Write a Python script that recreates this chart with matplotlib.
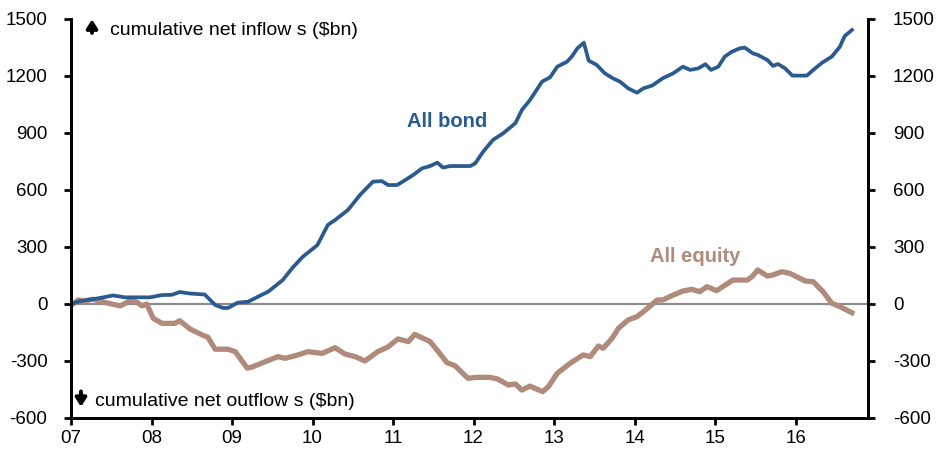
import matplotlib.pyplot as plt

# cumulative net flows, $bn (decimal year, value)
bond_x = [2007.00, 2007.11, 2007.34, 2007.52, 2007.67, 2007.98, 2008.13, 2008.25, 2008.35,
          2008.48, 2008.66, 2008.79, 2008.89, 2008.95, 2009.07, 2009.20, 2009.32, 2009.45,
          2009.63, 2009.75, 2009.88, 2010.06, 2010.19, 2010.28, 2010.44, 2010.59, 2010.75,
          2010.86, 2010.94, 2011.05, 2011.12, 2011.25, 2011.36, 2011.46, 2011.55, 2011.62,
          2011.71, 2011.96, 2012.02, 2012.12, 2012.24, 2012.37, 2012.52, 2012.60, 2012.70,
          2012.85, 2012.95, 2013.04, 2013.16, 2013.22, 2013.29, 2013.37, 2013.43, 2013.53,
          2013.63, 2013.73, 2013.82, 2013.92, 2014.03, 2014.11, 2014.22, 2014.35, 2014.48,
          2014.60, 2014.69, 2014.79, 2014.88, 2014.95, 2015.04, 2015.12, 2015.21, 2015.31,
          2015.37, 2015.47, 2015.53, 2015.65, 2015.72, 2015.78, 2015.87, 2015.96, 2016.14,
          2016.22, 2016.33, 2016.45, 2016.55, 2016.61, 2016.70]
bond_y = [0, 15, 30, 45, 35, 35, 47, 48, 63,
          55, 50, -5, -21, -21, 7, 12, 38, 65,
          126, 190, 249, 310, 416, 442, 495, 574, 644,
          647, 626, 626, 644, 679, 714, 726, 744, 718,
          726, 726, 740, 802, 863, 899, 952, 1021, 1073,
          1170, 1193, 1249, 1275, 1302, 1346, 1375, 1281, 1258,
          1214, 1188, 1170, 1135, 1112, 1135, 1150, 1188, 1214,
          1249, 1232, 1240, 1262, 1232, 1249, 1302, 1328, 1346,
          1349, 1319, 1311, 1284, 1253, 1263, 1240, 1202, 1202,
          1232, 1270, 1302, 1354, 1410, 1442]

equity_x = [2007.01, 2007.09, 2007.17, 2007.27, 2007.39, 2007.46, 2007.61, 2007.73, 2007.82,
            2007.88, 2007.94, 2008.02, 2008.13, 2008.29, 2008.35, 2008.48, 2008.63, 2008.70,
            2008.79, 2008.95, 2009.04, 2009.19, 2009.26, 2009.41, 2009.57, 2009.66, 2009.82,
            2009.94, 2010.12, 2010.28, 2010.40, 2010.53, 2010.65, 2010.81, 2010.94, 2011.06,
            2011.19, 2011.27, 2011.46, 2011.58, 2011.67, 2011.77, 2011.93, 2012.04, 2012.20,
            2012.30, 2012.43, 2012.52, 2012.60, 2012.70, 2012.79, 2012.86, 2012.93, 2013.04,
            2013.20, 2013.36, 2013.45, 2013.55, 2013.61, 2013.72, 2013.80, 2013.92, 2014.03,
            2014.16, 2014.28, 2014.35, 2014.48, 2014.60, 2014.71, 2014.81, 2014.90, 2015.02,
            2015.22, 2015.40, 2015.46, 2015.53, 2015.65, 2015.72, 2015.83, 2015.93, 2016.03,
            2016.12, 2016.22, 2016.34, 2016.45, 2016.55, 2016.70]
equity_y = [-5, 21, 16, 25, 12, 4, -10, 16, 9,
            -10, 0, -75, -102, -102, -88, -132, -163, -175,
            -238, -238, -251, -338, -330, -304, -277, -286, -268,
            -251, -260, -230, -263, -277, -300, -251, -225, -184,
            -198, -160, -198, -260, -309, -325, -391, -386, -386,
            -395, -426, -421, -453, -432, -449, -461, -435, -365,
            -312, -268, -277, -221, -233, -181, -128, -84, -67,
            -23, 21, 21, 47, 68, 77, 65, 91, 70,
            126, 126, 144, 179, 147, 153, 170, 161, 140,
            121, 117, 65, 4, -14, -46]

years = list(range(2007, 2017))
year_labels = ['07', '08', '09', '10', '11', '12', '13', '14', '15', '16']
y_ticks = [-600, -300, 0, 300, 600, 900, 1200, 1500]

plt.rcParams['font.family'] = ['Liberation Sans', 'DejaVu Sans']
plt.rcParams['axes.unicode_minus'] = False

blue = '#2B5A8E'
brown = '#B08A7B'

fig = plt.figure(figsize=(9.37, 4.51), dpi=100)
ax = fig.add_axes([0.0758, 0.0732, 0.8506, 0.8847])

ax.axhline(0, color='#8C8C8C', lw=1.6, zorder=1)
ax.plot(bond_x, bond_y, color=blue, lw=2.7, zorder=3)
ax.plot(equity_x, equity_y, color=brown, lw=3.8, zorder=2)

ax.set_xlim(2007, 2016.9)
ax.set_ylim(-600, 1500)
ax.set_xticks(years)
ax.set_xticklabels(year_labels)
ax.set_yticks(y_ticks)

ax2 = ax.twinx()
ax2.set_ylim(-600, 1500)
ax2.set_yticks(y_ticks)

for a in (ax, ax2):
    a.spines['top'].set_visible(False)
    for s in ('left', 'right', 'bottom'):
        a.spines[s].set_linewidth(2)
    a.tick_params(direction='out', length=5, width=2, labelsize=13.5, colors='black', pad=4)
ax.tick_params(axis='y', pad=12)
ax2.tick_params(axis='y', pad=13)

# thick arrows beside the axis notes
arrow = dict(arrowstyle='-|>,head_width=0.32,head_length=0.5', lw=2.8, color='black',
             shrinkA=0, shrinkB=0)
ax.annotate('', xy=(0.0982, 0.957), xytext=(0.0982, 0.927), xycoords='figure fraction',
            arrowprops=arrow)
ax.annotate('', xy=(0.0864, 0.098), xytext=(0.0864, 0.132), xycoords='figure fraction',
            arrowprops=arrow)

ax.text(2007.48, 1440, 'cumulative net inflow s ($bn)', fontsize=14, va='center', ha='left')
ax.text(2007.30, -515, 'cumulative net outflow s ($bn)', fontsize=14, va='center', ha='left')

ax.text(2011.67, 963, 'All bond', color=blue, fontsize=14.5, fontweight='bold',
        ha='center', va='center')
ax.text(2014.75, 250, 'All equity', color=brown, fontsize=14.5, fontweight='bold',
        ha='center', va='center')

fig.savefig('out.png', dpi=100)
